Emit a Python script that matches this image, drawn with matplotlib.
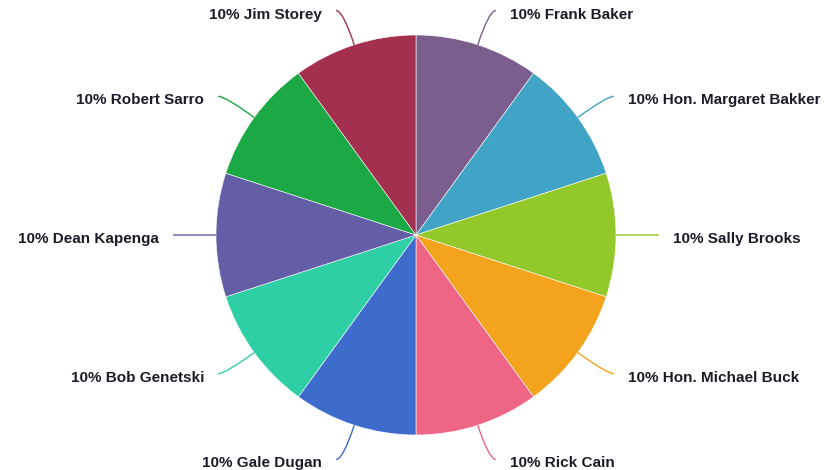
import numpy as np
import matplotlib.pyplot as plt
from matplotlib.path import Path
from matplotlib.patches import PathPatch

# data
names = ["Frank Baker", "Hon. Margaret Bakker", "Sally Brooks", "Hon. Michael Buck",
         "Rick Cain", "Gale Dugan", "Bob Genetski", "Dean Kapenga",
         "Robert Sarro", "Jim Storey"]
shares = [10, 10, 10, 10, 10, 10, 10, 10, 10, 10]
colors = ["#7b5e8e", "#41a3c5", "#92c82a", "#f4a41c", "#ef6586",
          "#3e6ccd", "#2ecfa4", "#635ea6", "#1ba845", "#a3304e"]

plt.rcParams['font.family'] = ['Liberation Sans', 'DejaVu Sans']

fig = plt.figure(figsize=(8.34, 4.70), dpi=100)
ax = fig.add_axes([0, 0, 1, 1])

# pie, clockwise from top
wedges, _ = ax.pie(shares, colors=colors, startangle=90, counterclock=False,
                   radius=1.0, center=(0, 0),
                   wedgeprops=dict(edgecolor="white", linewidth=0.4))

ax.set_xlim(-416 / 200, (834 - 416) / 200)
ax.set_ylim(-(470 - 235) / 200, 235 / 200)
ax.set_aspect("equal")
ax.axis("off")

L1, L2, gap = 0.18, 0.035, 0.07
total = sum(shares)
acc = 0
for name, v, c in zip(names, shares, colors):
    mid = (acc + v / 2) / total * 2 * np.pi
    acc += v
    dx, dy = np.sin(mid), np.cos(mid)
    p0 = (dx, dy)
    p1 = (dx * (1 + L1), dy * (1 + L1))
    side = -1 if dx < -1e-6 else 1
    p2 = (p1[0] + side * L2, p1[1])
    path = Path([p0, p1, p2], [Path.MOVETO, Path.CURVE3, Path.CURVE3])
    ax.add_patch(PathPatch(path, fill=False, edgecolor=c, linewidth=1.0))
    pct = v / total * 100
    ax.text(p2[0] + side * gap, p2[1] - 0.02, f"{pct:.0f}% {name}",
            ha="left" if side > 0 else "right", va="center",
            fontsize=11, fontweight="bold", color="#1c1c28")

fig.savefig("out.png", dpi=100)
